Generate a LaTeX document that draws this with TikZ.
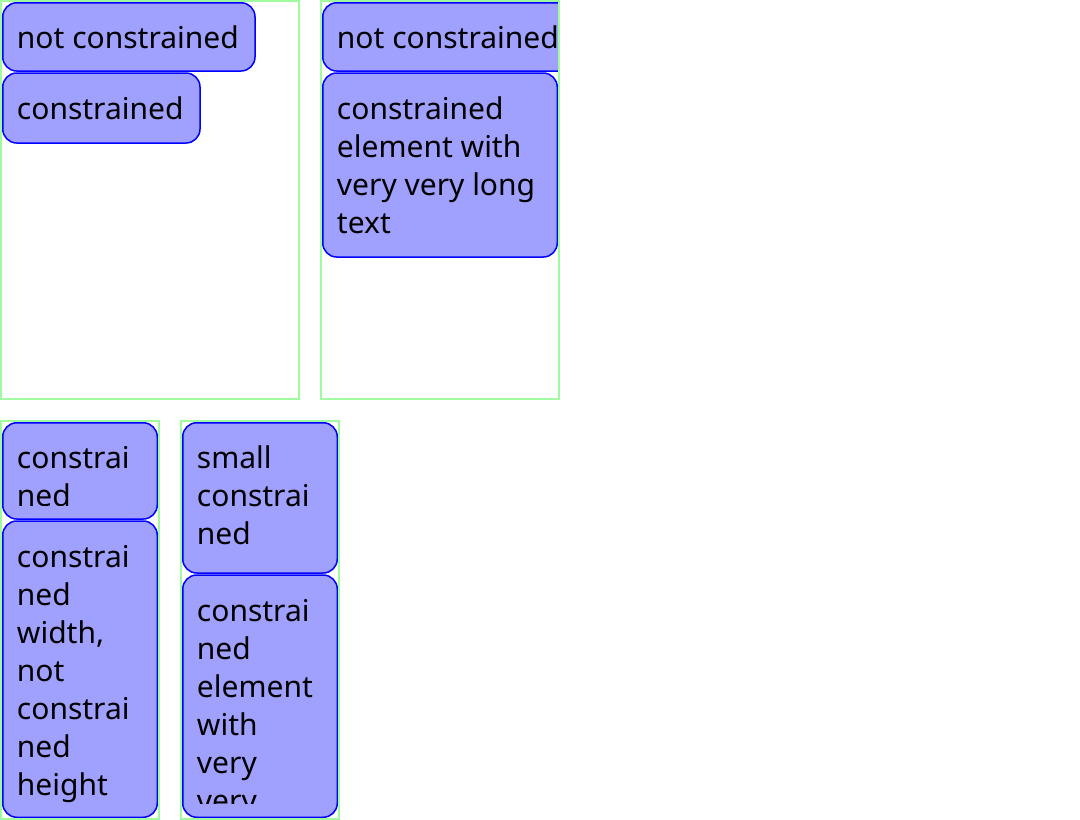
\documentclass[tikz,border=0pt]{standalone}
\usepackage{fontspec}
\setmainfont{Noto Sans}
\usetikzlibrary{positioning}
\definecolor{mfill}{RGB}{160,160,255}
\definecolor{mgreen}{RGB}{160,250,160}
\tikzset{frame/.style = {draw=mgreen, line width=1.5},
         elem/.style = {draw=blue, fill=mfill, line width=1.5, rounded corners=14},
         elemtext/.style = {anchor=north west, align=left, inner sep=0,
                            font=\fontsize{30}{38}\selectfont}}
% name, left, top, right, bottom, text
\newcommand{\elembox}[6]{%
  \draw [elem] (#2,#3) rectangle (#4,#5);
  \begin{scope}
    \clip (#2,#3+14) rectangle (#4,#5-14);
    \node [elemtext] (#1) at (#2+14,#3+19.4) {\strut #6};
  \end{scope}}

\begin{document}
\begin{tikzpicture}[x=1pt, y=-1pt]
    \useasboundingbox (0,0) rectangle (1080,820);

    \begin{scope}
      \clip (2,2) rectangle (298,398);
      \elembox{free1}{2.75}{2.75}{255}{71}{not constrained}
      \elembox{fixed1}{2.75}{73}{200}{143}{constrained}
    \end{scope}
    \draw [frame] (1,1) rectangle (299,399);

    \begin{scope}
      \clip (322,2) rectangle (558,398);
      \elembox{free2}{322.75}{2.75}{590}{71}{not constrained}
      \elembox{fixed2}{322.75}{73}{557.25}{257}{constrained\\element with\\very very long\\text}
    \end{scope}
    \draw [frame] (321,1) rectangle (559,399);

    \begin{scope}
      \clip (2,422) rectangle (158,818);
      \elembox{fixed3}{2.75}{422.75}{157.25}{519}{constrai\\ned}
      \elembox{wide3}{2.75}{521}{157.25}{817.25}{constrai\\ned\\width,\\not\\constrai\\ned\\height}
    \end{scope}
    \draw [frame] (1,421) rectangle (159,819);

    \begin{scope}
      \clip (182,422) rectangle (338,818);
      \elembox{small4}{182.75}{422.75}{337.25}{573}{small\\constrai\\ned}
      \elembox{fixed4}{182.75}{575}{337.25}{817.25}{constrai\\ned\\element\\with\\very\\very}
    \end{scope}
    \draw [frame] (181,421) rectangle (339,819);
\end{tikzpicture}
\end{document}
